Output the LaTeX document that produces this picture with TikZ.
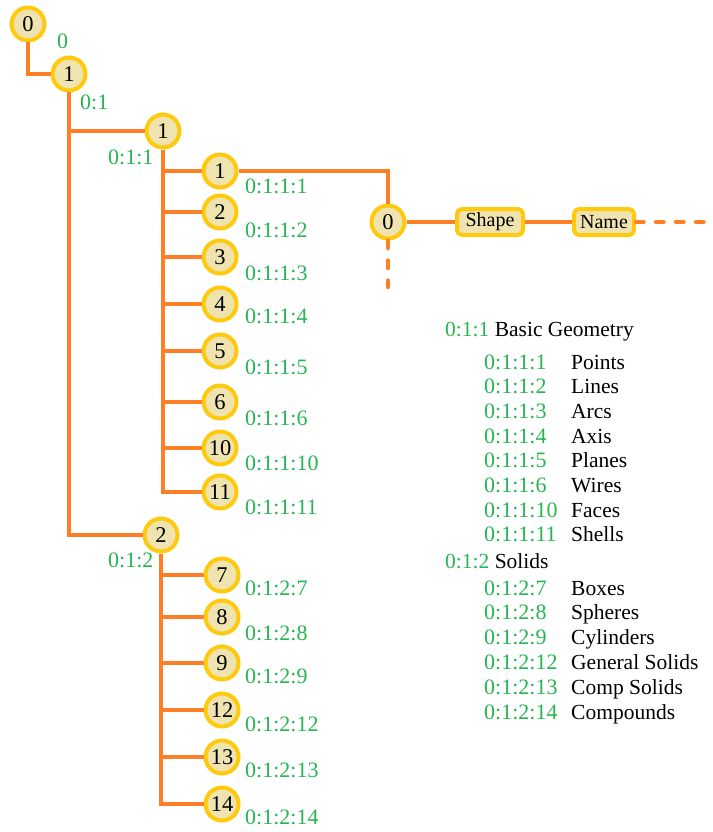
\documentclass[tikz,border=0pt]{standalone}
\usepackage{fontspec}
\setmainfont{Liberation Serif}
\newfontfamily\treefont{Liberation Serif}
\usepackage{xcolor}
\usetikzlibrary{positioning}

\definecolor{branch}{HTML}{FF7F27}
\definecolor{rim}{HTML}{FFC90E}
\definecolor{cellfill}{HTML}{EFE4B0}
\definecolor{idgreen}{HTML}{26B552}

\begin{document}
\begin{tikzpicture}
[
x = 1pt, y = -1pt,
cell-a/.style={circle, draw=rim, fill=cellfill, line width=4pt, minimum size=33pt, inner sep=0pt, font=\treefont\fontsize{22.5}{22.5}\selectfont},
cell-b/.style={rectangle, rounded corners=5pt, draw=rim, fill=cellfill, line width=4pt, minimum height=26pt, inner sep=2pt, font=\treefont\fontsize{20}{20}\selectfont},
text-a/.style={idgreen, anchor=west, inner sep=0pt, text height=14pt, text depth=0pt, font=\treefont\fontsize{22}{22}\selectfont},
text-b/.style={black, anchor=west, inner sep=0pt, text height=14pt, text depth=0pt, font=\treefont\fontsize{21.5}{21.5}\selectfont},
link/.style={branch, line width=4.5pt},
link-open/.style={branch, line width=4.5pt, line cap=round, dash pattern=on 7.5pt off 12.5pt}
]

\useasboundingbox (0,0) rectangle (712,832);

% tree of ids
\node (cell-0)      [cell-a] at ( 28, 24) {0};
\node (cell-0-id)   [text-a] at ( 57, 42) {0};
\node (cell-01)     [cell-a] at ( 69, 74) {1};
\node (cell-01-id)  [text-a] at ( 80,103) {0:1};
\node (cell-011)    [cell-a] at (163,131) {1};
\node (cell-011-id) [text-a] at (108,157) {0:1:1};
\node (cell-012)    [cell-a] at (161,535) {2};
\node (cell-012-id) [text-a] at (108,560) {0:1:2};

\node (cell-0111)     [cell-a] at (220,171) {1};
\node (cell-0111-id)  [text-a] at (245,186) {0:1:1:1};
\node (cell-0112)     [cell-a] at (220,212) {2};
\node (cell-0112-id)  [text-a] at (245,230) {0:1:1:2};
\node (cell-0113)     [cell-a] at (220,257) {3};
\node (cell-0113-id)  [text-a] at (245,273) {0:1:1:3};
\node (cell-0114)     [cell-a] at (220,304) {4};
\node (cell-0114-id)  [text-a] at (245,316) {0:1:1:4};
\node (cell-0115)     [cell-a] at (220,351) {5};
\node (cell-0115-id)  [text-a] at (245,367) {0:1:1:5};
\node (cell-0116)     [cell-a] at (220,402) {6};
\node (cell-0116-id)  [text-a] at (245,418) {0:1:1:6};
\node (cell-01110)    [cell-a] at (220,448) {10};
\node (cell-01110-id) [text-a] at (245,463) {0:1:1:10};
\node (cell-01111)    [cell-a] at (220,492) {11};
\node (cell-01111-id) [text-a] at (245,507) {0:1:1:11};

\node (cell-0127)     [cell-a] at (222,575) {7};
\node (cell-0127-id)  [text-a] at (245,588) {0:1:2:7};
\node (cell-0128)     [cell-a] at (222,617) {8};
\node (cell-0128-id)  [text-a] at (245,633) {0:1:2:8};
\node (cell-0129)     [cell-a] at (222,663) {9};
\node (cell-0129-id)  [text-a] at (245,676) {0:1:2:9};
\node (cell-01212)    [cell-a] at (222,710) {12};
\node (cell-01212-id) [text-a] at (245,724) {0:1:2:12};
\node (cell-01213)    [cell-a] at (222,757) {13};
\node (cell-01213-id) [text-a] at (245,770) {0:1:2:13};
\node (cell-01214)    [cell-a] at (222,804) {14};
\node (cell-01214-id) [text-a] at (245,817) {0:1:2:14};

% record of one entry
\node (cell-g)     [cell-a] at (388,222) {0};
\node (box-shape)  [cell-b, minimum width=66pt] at (490,222) {Shape};
\node (box-name)   [cell-b, minimum width=60pt] at (604,222) {Name};
\coordinate (tail-r) at (712,222);
\coordinate (tail-d) at (388,287);

\draw [link] (cell-0) |- (cell-01);
\draw [link] (cell-01) |- (cell-011);
\draw [link] (cell-01) |- (cell-012);
\draw [link] (cell-011) |- (cell-0111);
\draw [link] (cell-011) |- (cell-0112);
\draw [link] (cell-011) |- (cell-0113);
\draw [link] (cell-011) |- (cell-0114);
\draw [link] (cell-011) |- (cell-0115);
\draw [link] (cell-011) |- (cell-0116);
\draw [link] (cell-011) |- (cell-01110);
\draw [link] (cell-011) |- (cell-01111);
\draw [link] (cell-012) |- (cell-0127);
\draw [link] (cell-012) |- (cell-0128);
\draw [link] (cell-012) |- (cell-0129);
\draw [link] (cell-012) |- (cell-01212);
\draw [link] (cell-012) |- (cell-01213);
\draw [link] (cell-012) |- (cell-01214);
\draw [link] (cell-0111) -| (cell-g);
\draw [link] (cell-g) -- (box-shape);
\draw [link] (box-shape) -- (box-name);
\draw [link-open] (box-name) -- (tail-r);
\draw [link-open] (cell-g) -- (tail-d);

% key
\coordinate (names) at (571,0);
\node (key-geom)   [text-b] at (445,329) {\textcolor{idgreen}{0:1:1} Basic Geometry};
\node (key-0111)   [text-a] at (484,362) {0:1:1:1};
\node (key-0112)   [text-a, below = 10.3pt of key-0111.south west, anchor=north west] {0:1:1:2};
\node (key-0113)   [text-a, below = 10.3pt of key-0112.south west, anchor=north west] {0:1:1:3};
\node (key-0114)   [text-a, below = 10.3pt of key-0113.south west, anchor=north west] {0:1:1:4};
\node (key-0115)   [text-a, below = 10.3pt of key-0114.south west, anchor=north west] {0:1:1:5};
\node (key-0116)   [text-a, below = 10.3pt of key-0115.south west, anchor=north west] {0:1:1:6};
\node (key-01110)  [text-a, below = 10.3pt of key-0116.south west, anchor=north west] {0:1:1:10};
\node (key-01111)  [text-a, below = 10.3pt of key-01110.south west, anchor=north west] {0:1:1:11};
\node (key-solid)  [text-b] at (445,561) {\textcolor{idgreen}{0:1:2} Solids};
\node (key-0127)   [text-a] at (484,588) {0:1:2:7};
\node (key-0128)   [text-a, below = 10.4pt of key-0127.south west, anchor=north west] {0:1:2:8};
\node (key-0129)   [text-a, below = 10.4pt of key-0128.south west, anchor=north west] {0:1:2:9};
\node (key-01212)  [text-a, below = 10.4pt of key-0129.south west, anchor=north west] {0:1:2:12};
\node (key-01213)  [text-a, below = 10.4pt of key-01212.south west, anchor=north west] {0:1:2:13};
\node (key-01214)  [text-a, below = 10.4pt of key-01213.south west, anchor=north west] {0:1:2:14};

\node [text-b] at (names |- key-0111.west)  {Points};
\node [text-b] at (names |- key-0112.west)  {Lines};
\node [text-b] at (names |- key-0113.west)  {Arcs};
\node [text-b] at (names |- key-0114.west)  {Axis};
\node [text-b] at (names |- key-0115.west)  {Planes};
\node [text-b] at (names |- key-0116.west)  {Wires};
\node [text-b] at (names |- key-01110.west) {Faces};
\node [text-b] at (names |- key-01111.west) {Shells};
\node [text-b] at (names |- key-0127.west)  {Boxes};
\node [text-b] at (names |- key-0128.west)  {Spheres};
\node [text-b] at (names |- key-0129.west)  {Cylinders};
\node [text-b] at (names |- key-01212.west) {General Solids};
\node [text-b] at (names |- key-01213.west) {Comp Solids};
\node [text-b] at (names |- key-01214.west) {Compounds};

\end{tikzpicture}
\end{document}
